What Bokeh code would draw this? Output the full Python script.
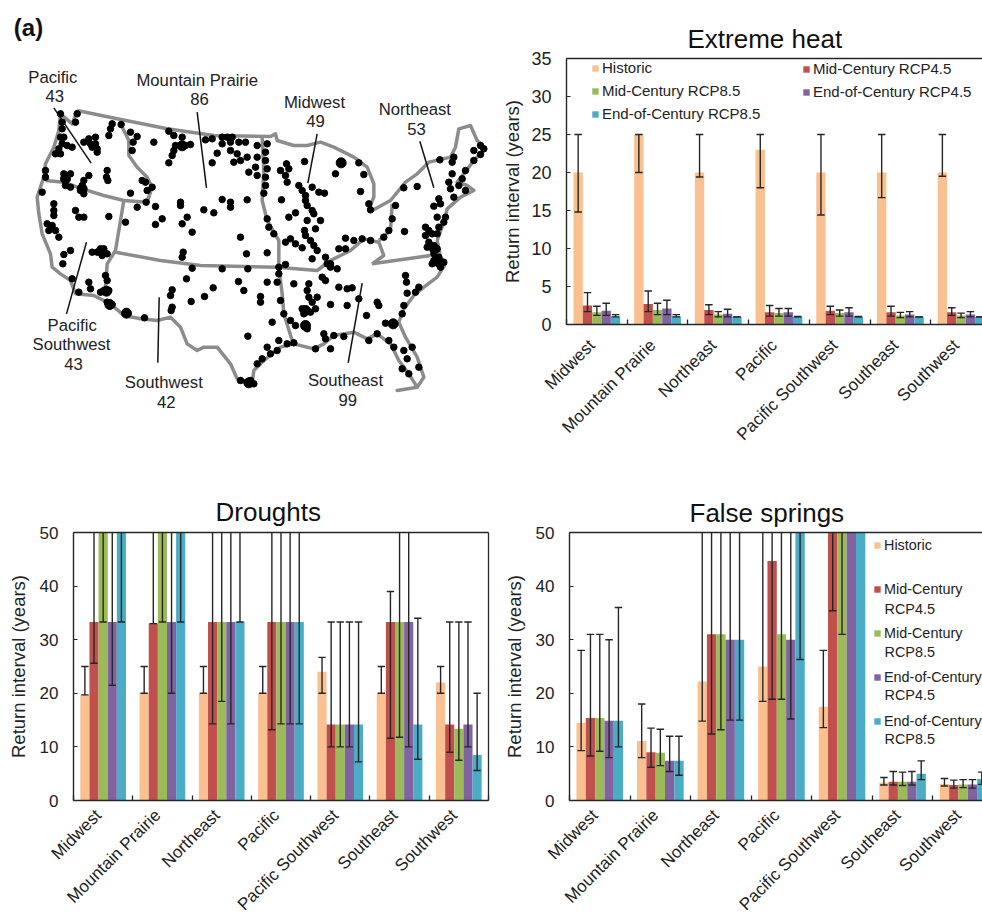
import math
from bokeh.plotting import figure
from bokeh.layouts import column, row
from bokeh.embed import file_html
from bokeh.resources import INLINE
from bokeh.models import (Range1d, LinearAxis, FixedTicker, Legend, LegendItem, Label)
from bokeh.core.properties import value

FONT = "Liberation Sans"
DARK = "#262626"
REGIONS = ["Midwest", "Mountain Prairie", "Northeast", "Pacific", "Pacific Southwest", "Southeast", "Southwest"]
SERIES = ["Historic", "Mid-Century RCP4.5", "Mid-Century RCP8.5", "End-of-Century RCP4.5", "End-of-Century RCP8.5"]
COLORS = ["#FAC090", "#C0504D", "#9BBB59", "#8064A2", "#4BACC6"]

# ---- (b) extreme heat
heat_val = [[20, 25, 20, 23, 20, 20, 20],
            [2.5, 2.7, 1.9, 1.6, 1.8, 1.6, 1.6],
            [1.6, 1.9, 1.3, 1.5, 1.5, 1.2, 1.2],
            [1.8, 2.1, 1.4, 1.6, 1.6, 1.3, 1.3],
            [1.1, 1.1, 1.0, 1.0, 1.0, 1.0, 1.0]]
heat_hi = [[25, 25, 25, 25, 25, 25, 25],
           [4.2, 4.4, 2.6, 2.5, 2.4, 2.4, 2.2],
           [2.4, 2.8, 1.7, 2.1, 1.9, 1.6, 1.5],
           [2.8, 3.2, 2.0, 2.1, 2.2, 1.7, 1.7],
           [1.3, 1.3, 1.0, 1.05, 1.05, 1.0, 1.0]]
heat_lo = [[14.8, 20, 19.4, 18, 14.4, 16.7, 19.5],
           [1.7, 1.7, 1.3, 1.1, 1.3, 1.1, 1.2],
           [1.2, 1.3, 1.0, 1.1, 1.1, 0.9, 0.9],
           [1.2, 1.3, 1.0, 1.1, 1.1, 1.0, 1.0],
           [1.0, 1.0, 1.0, 1.0, 1.0, 1.0, 1.0]]
# ---- (c) droughts (values above 50 run off the chart)
drought_val = [[19.7, 20, 20, 20, 24, 20, 22],
               [33.3, 33, 33.3, 33.3, 14.2, 33.3, 14.2],
               [100, 100, 33.3, 33.3, 14.2, 33.3, 13.4],
               [33.3, 33.3, 33.3, 33.3, 14.2, 33.3, 14.2],
               [100, 100, 33.3, 33.3, 14.2, 14.2, 8.5]]
drought_hi = [[25, 25, 25, 25, 26.7, 25, 25],
              [100, 100, 100, 100, 33.3, 39, 33.3],
              [100, 100, 100, 100, 33.3, 100, 33.3],
              [100, 100, 100, 100, 33.3, 100, 33.3],
              [100, 100, 100, 100, 33.3, 34, 20]]
drought_lo = [[19.7, 20, 20, 20, 20, 20, 20],
              [25.6, 33, 14.3, 13.2, 10, 11.6, 9],
              [33.3, 33.3, 18.5, 14.3, 10, 11.8, 7.5],
              [21.5, 20, 14.3, 14.3, 10, 10, 10],
              [33.3, 33.3, 33.3, 14.3, 7.2, 7.7, 5.6]]
# ---- (d) false springs
spring_val = [[14.5, 11.1, 22.2, 25, 17.5, 3.3, 3.1],
              [15.4, 9, 31, 44.7, 100, 3.5, 2.9],
              [15.4, 8.9, 31, 31, 100, 3.5, 3.0],
              [14.9, 7.4, 30, 30, 100, 3.5, 3.0],
              [14.9, 7.4, 30, 100, 100, 5, 4]]
spring_hi = [[28, 18, 100, 100, 28, 4.3, 4.1],
             [31, 13.5, 100, 100, 100, 5.4, 3.8],
             [31, 13.3, 100, 100, 100, 5.3, 3.9],
             [30, 12, 100, 100, 100, 5.4, 3.9],
             [36, 12, 100, 100, 100, 7.4, 5.3]]
spring_lo = [[9.3, 8, 14.8, 18.5, 13.6, 2.9, 2.7],
             [8.3, 6.2, 12.4, 18.9, 35.4, 2.9, 2.3],
             [9.2, 6.5, 13.2, 18.9, 31, 2.8, 2.4],
             [8, 5.4, 15, 15.2, 100, 2.9, 2.3],
             [10, 4.7, 15, 26.3, 100, 3.9, 3]]

# ---- (a) map (3x picture pixels)
outline = [(230,330),(350,355),(500,385),(640,405),(810,408),(825,400),(830,420),(880,435),(920,435),(960,425),(1000,440),(1060,470),(1100,500),(1120,550),(1120,590),(1105,625),(1115,630),(1170,600),(1215,545),(1250,520),(1285,485),(1350,470),(1365,440),(1375,385),(1410,375),(1430,420),(1455,445),(1420,480),(1390,520),(1370,545),(1400,555),(1420,570),(1380,590),(1340,625),(1330,665),(1310,720),(1320,770),(1335,790),(1310,830),(1270,860),(1240,885),(1210,925),(1195,965),(1215,1010),(1250,1070),(1270,1130),(1250,1160),(1190,1170),(1250,1160),(1225,1120),(1195,1080),(1170,1030),(1130,1000),(1100,1015),(1060,995),(1000,1005),(970,1030),(940,1045),(880,1030),(840,1040),(790,1080),(760,1110),(755,1150),(710,1135),(690,1090),(650,1040),(610,1040),(590,1050),(560,1030),(540,980),(510,950),(470,960),(420,955),(370,945),(330,910),(280,885),(225,880),(210,840),(180,820),(155,800),(150,760),(125,700),(115,640),(110,590),(130,530),(135,490),(160,440),(175,390),(180,340),(215,370),(230,330)]
borders = [[(135,540),(190,545),(245,565),(310,585),(370,600),(440,605),(455,560),(440,530),(410,500),(385,465),(385,420),(360,370)],
           [(370,600),(345,750),(320,790),(315,860),(310,885)],
           [(345,755),(480,780),(600,795),(830,800),(950,810),(990,780),(1050,750),(1090,715),(1135,725),(1150,765),(1115,790),(1290,765)],
           [(785,410),(790,510),(785,600),(800,660),(835,720),(835,800),(845,880),(850,940),(875,1020)],
           [(1135,720),(1170,690),(1175,610)]]
leaders = [[(160,322),(272,488)],[(590,335),(618,562)],[(950,400),(922,548)],[(1258,422),(1300,562)],
           [(258,725),(198,940)],[(476,890),(472,1087)],[(1085,848),(1043,1087)]]
map_text = ["Pacific","43","Mountain Prairie","86","Midwest","49","Northeast","53","Pacific","Southwest","43","Southwest","42","Southeast","99"]
map_text_x = [157,163,590,597,942,945,1243,1248,215,213,219,490,497,1035,1042]
map_text_y = [230,287,240,296,305,362,327,384,975,1033,1090,1147,1205,1140,1198]
sites = [(180,340),(185,365),(185,385),(190,410),(180,410),(185,430),(200,435),(215,440),(175,445),(165,460),(180,460),(230,340),(225,365),(335,370),(330,385),(325,405),(362,372),(390,395),(410,408),(398,425),(395,450),(460,425),(250,425),(265,415),(285,410),(270,430),(285,430),(290,445),(275,440),(290,455),(135,510),(135,530),(190,520),(195,540),(210,520),(195,555),(210,560),(265,525),(250,540),(245,555),(240,570),(250,580),(320,510),(318,530),(322,540),(390,578),(435,545),(425,540),(455,560),(440,570),(437,605),(410,620),(465,618),(485,655),(465,672),(375,665),(125,575),(160,610),(160,630),(160,645),(140,670),(155,675),(145,690),(165,690),(175,710),(225,630),(235,650),(250,650),(325,648),(210,750),(190,762),(187,790),(215,835),(235,875),(265,845),(270,865),(300,745),(290,755),(310,745),(320,760),(305,765),(275,755),(315,825),(320,840),(310,870),(325,870),(300,875),(320,905),(335,912),(378,938),(432,952),
(505,392),(520,405),(545,410),(525,435),(540,435),(555,435),(570,432),(515,465),(505,487),(520,450),(615,418),(635,415),(635,487),(665,410),(680,410),(695,410),(665,430),(690,425),(715,425),(735,425),(770,435),(800,430),(795,455),(690,450),(650,458),(710,460),(700,485),(720,480),(740,470),(770,470),(765,500),(745,515),(770,525),(795,480),(800,505),(795,530),(795,555),(790,578),(540,605),(540,615),(665,597),(690,605),(690,620),(740,598),(610,628),(640,637),(560,650),(545,670),(575,695),(720,710),(800,655),(805,680),(820,700),(738,760),(800,757),(548,755),(545,770),(575,803),(665,805),(742,805),(558,835),(638,862),(612,888),(572,903),(515,868),(510,885),(515,920),(512,930),(714,843),(730,870),(800,845),(780,888),(780,905),(815,965),(742,1007),(835,800),(835,820),(830,845),(840,900),(850,940),(870,960),(885,975),(835,1020),(800,1040),(810,1060),(830,1050),(860,1030),(880,1027),(785,1075),(770,1090),(720,1140),(740,1145),(760,1150),(750,1140),
(858,490),(840,510),(865,505),(855,525),(860,545),(912,483),(1020,487),(1075,487),(1005,520),(1090,522),(1080,573),(1105,610),(1110,628),(895,555),(905,570),(915,585),(915,600),(920,615),(935,630),(935,560),(955,575),(972,578),(843,598),(885,637),(865,650),(920,660),(960,660),(940,640),(912,690),(915,705),(945,685),(930,720),(940,735),(870,715),(855,725),(885,730),(905,742),(950,750),(975,770),(980,790),(935,775),(855,792),(1035,713),(1060,720),(1085,715),(1035,745),(1015,745),(990,790),(1110,720),(1150,710),(1165,690),(1175,655),(1185,615),(1212,693),
(990,800),(1010,805),(965,830),(975,840),(925,850),(920,870),(925,890),(935,905),(950,890),(945,925),(930,935),(905,925),(910,940),(880,850),(1015,860),(1040,865),(1055,862),(1040,915),(990,912),(1075,895),(1130,905),(1135,915),(1098,945),(915,975),(920,985),(970,1000),(975,1015),(1000,1005),(1030,1008),(990,1045),(945,1045),(1105,1020),(1130,1000),(1165,1020),(1180,1040),(1210,1050),(1220,1075),(1235,1040),(1255,1100),(1205,1105),(1225,1120),(1155,968),(1178,970),(1205,940),(1210,915),(1220,878),(1245,875),(1255,860),(1215,825),(1218,845),
(1210,562),(1250,558),(1318,478),(1360,470),(1355,485),(1420,450),(1440,435),(1450,445),(1440,462),(1420,480),(1395,510),(1385,535),(1355,520),(1345,545),(1350,565),(1375,555),(1360,590),(1395,570),(1315,595),(1320,610),(1300,617),(1335,650),(1330,665),(1310,650),(1315,680),(1275,680),(1285,690),(1275,705),(1295,700),(1310,700),(1285,725),(1280,740),(1300,735),(1310,745),(1300,760),(1315,770),(1300,780),(1315,790),(1330,785),(1320,800),(1295,790)]
site_blobs = [(302,752),(318,872),(328,912),(745,1147),(1315,785),(1302,745),(545,436),(915,930),(1178,970),(245,565),(195,535),(378,938),(1022,487),(915,975)]

GRAY = "#8c8c8c"
m = figure(width=498, height=470, x_range=Range1d(0, 1494), y_range=Range1d(1410, 0),
           x_axis_location=None, y_axis_location=None,
           output_backend="svg", toolbar_location=None, min_border=0, outline_line_color=None)
m.grid.visible = False
m.line([q[0] for q in outline], [q[1] for q in outline], line_color=GRAY, line_width=3.5, line_join="round")
for b in borders:
    m.line([q[0] for q in b], [q[1] for q in b], line_color=GRAY, line_width=3.5)
m.scatter([q[0] for q in sites], [q[1] for q in sites], size=6.5, color="black")
m.scatter([q[0] for q in site_blobs], [q[1] for q in site_blobs], size=10, color="black")
for l in leaders:
    m.line([q[0] for q in l], [q[1] for q in l], line_color="#111111", line_width=1.5)
m.text(map_text_x, map_text_y, text=map_text, text_font=value(FONT), text_font_size="16.7px",
       text_align="center", text_baseline="middle", text_color="#222222")
m.add_layout(Label(x=28*3, y=27*3, text="(a)", text_font=FONT, text_font_size="24px",
                   text_font_style="bold", text_align="center", text_baseline="middle", text_color="#111111"))


def panel(title, tag, w, h, left, right, top, bottom, xmax, ymax, ystep, vals, his, los, yfont, tag_xy, title_off,
          title_standoff, xfont, xstandoff, ylabel_standoff, closed=False):
    p = figure(width=w, height=h, x_range=Range1d(0, xmax), y_range=Range1d(0, ymax),
               output_backend="svg", toolbar_location=None, outline_line_color=None,
               min_border_left=left, min_border_right=right, min_border_top=top, min_border_bottom=bottom)
    p.grid.visible = False
    p.title.text = title
    p.title.text_font = FONT
    p.title.text_font_size = "26px"
    p.title.text_font_style = "normal"
    p.title.text_color = "#111111"
    p.title.align = "left"
    p.title.offset = title_off
    p.title.standoff = title_standoff
    renderers = []
    width = 0.154
    for s in range(5):
        xs = [i + 0.5 + (s - 2) * width for i in range(7)]
        r = p.vbar(x=xs, top=vals[s], bottom=0, width=width, color=COLORS[s], line_color=None)
        renderers.append(r)
    for s in range(5):
        xs = [i + 0.5 + (s - 2) * width for i in range(7)]
        p.segment(xs, los[s], xs, his[s], line_color=DARK, line_width=1.4)
        cap = 0.062
        x0 = [x - cap for x in xs]
        x1 = [x + cap for x in xs]
        p.segment(x0, his[s], x1, his[s], line_color=DARK, line_width=1.4)
        p.segment(x0, los[s], x1, los[s], line_color=DARK, line_width=1.4)
    xa = p.xaxis[0]
    label_ticks = [i + 0.42 for i in range(7)]
    xa.ticker = FixedTicker(ticks=label_ticks, minor_ticks=list(range(8)))
    xa.major_label_overrides = {label_ticks[i]: REGIONS[i] for i in range(7)}
    xa.major_label_orientation = math.pi / 4
    xa.major_label_text_font = FONT
    xa.major_label_text_font_size = xfont
    xa.major_label_text_color = "#222222"
    xa.major_label_standoff = xstandoff
    xa.major_tick_line_color = None
    xa.minor_tick_in = 5
    xa.minor_tick_out = 0
    xa.minor_tick_line_color = DARK
    xa.minor_tick_line_width = 1.3
    xa.axis_line_color = DARK
    xa.axis_line_width = 1.4
    ya = p.yaxis[0]
    ya.ticker = FixedTicker(ticks=list(range(0, ymax + 1, ystep)))
    ya.major_label_text_font = FONT
    ya.major_label_text_font_size = yfont
    ya.major_label_text_color = "#222222"
    ya.major_label_standoff = 15
    ya.major_tick_in = 4
    ya.major_tick_out = 0
    ya.minor_tick_line_color = None
    ya.major_tick_line_color = DARK
    ya.axis_line_color = DARK
    ya.axis_line_width = 1.4
    ya.axis_label = "Return interval (years)"
    ya.axis_label_text_font = FONT
    ya.axis_label_text_font_size = "18.5px"
    ya.axis_label_text_font_style = "normal"
    ya.axis_label_text_color = "#222222"
    ya.axis_label_standoff = ylabel_standoff
    sides = ["above"] + (["right"] if closed else [])
    for side in sides:
        ax = LinearAxis(ticker=FixedTicker(ticks=[]), major_tick_line_color=None, minor_tick_line_color=None,
                        major_label_text_font_size="0px", axis_line_color=DARK, axis_line_width=1.3)
        p.add_layout(ax, side)
    p.add_layout(Label(x=tag_xy[0], y=tag_xy[1], x_units="screen", y_units="screen", text=tag,
                       text_font=FONT, text_font_size="24px", text_font_style="bold",
                       text_align="center", text_baseline="middle", text_color="#111111"))
    return p, renderers


def legend(p, rs, labels, loc, spacing, font="15px"):
    lg = Legend(items=[LegendItem(label=t, renderers=[r]) for t, r in zip(labels, rs)],
                location=loc, padding=0, margin=0, spacing=spacing, background_fill_alpha=0,
                border_line_color=None, glyph_width=8, glyph_height=8, label_standoff=3,
                label_height=14, label_text_font=FONT, label_text_font_size=font, label_text_color="#222222")
    p.add_layout(lg)


b, br = panel("Extreme heat", "(b)", 484, 470, 68, 0, 58, 146, 6.853, 35, 5, heat_val, heat_hi, heat_lo,
              "18px", (-29, 296), 121, 10, "17px", 12, 5)
legend(b, [br[0], br[2], br[4]], [SERIES[0], SERIES[2], SERIES[4]], (25, 202), 6)
legend(b, [br[1], br[3]], [SERIES[1], SERIES[3]], (236, 224), 6)

c, _ = panel("Droughts", "(c)", 500, 454, 73, 12, 62, 124, 7, 50, 10, drought_val, drought_hi, drought_lo,
             "17px", (-44, 305), 142, 11, "17px", 6, 8, closed=True)
d, dr = panel("False springs", "(d)", 482, 454, 68, 0, 62, 124, 6.82, 50, 10, spring_val, spring_hi, spring_lo,
              "17px", (-31, 303), 120, 10, "17px", 6, 8)
lg_first = ["Historic", "Mid-Century", "Mid-Century", "End-of-Century", "End-of-Century"]
legend(d, dr, lg_first, (304, 71), 28, font="14.4px")
for t, yy in zip(["RCP4.5", "RCP8.5", "RCP4.5", "RCP8.5"], [192, 149, 105.7, 62]):
    d.add_layout(Label(x=315, y=yy, x_units="screen", y_units="screen", text=t, text_font=FONT,
                       text_font_size="14.4px", text_baseline="middle", text_color="#222222"))

page = column(row(column(m), b), row(c, d))
open("out.html", "w").write(file_html(page, INLINE))
